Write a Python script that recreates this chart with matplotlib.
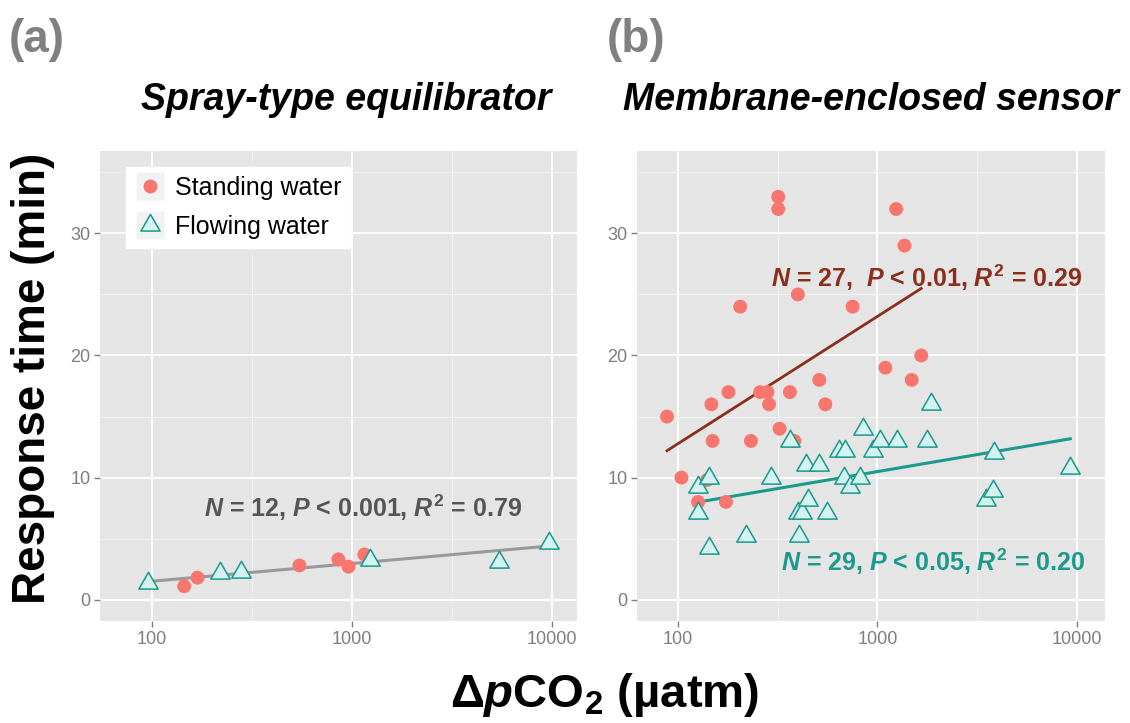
import numpy as np
import matplotlib.pyplot as plt
from matplotlib.lines import Line2D
from matplotlib.path import Path
from matplotlib.legend_handler import HandlerTuple
from matplotlib.ticker import FixedLocator, NullFormatter

plt.rcParams['font.family'] = ['Liberation Sans', 'DejaVu Sans']
plt.rcParams['mathtext.fontset'] = 'custom'
plt.rcParams['mathtext.rm'] = 'Liberation Sans:bold'
plt.rcParams['mathtext.it'] = 'Liberation Sans:italic:bold'
plt.rcParams['mathtext.bf'] = 'Liberation Sans:bold'

# (a) spray-type equilibrator
spray_stand_x = [145, 169, 547, 857, 963, 1156]
spray_stand_y = [1.1, 1.8, 2.8, 3.3, 2.7, 3.7]
spray_flow_x = [96, 220, 280, 1235, 5470, 9700]
spray_flow_y = [1.4, 2.15, 2.25, 3.25, 3.05, 4.65]

# (b) membrane-enclosed sensor
memb_stand_x = [88, 104, 126, 140, 147, 149, 174, 179, 205, 232, 258, 281, 286, 318,
                318, 323, 364, 383, 399, 511, 548, 751, 1097, 1242, 1367, 1486, 1660]
memb_stand_y = [15, 10, 8, 9.8, 16, 13, 8, 17, 24, 13, 17, 17, 16, 33,
                32, 14, 17, 13, 25, 18, 16, 24, 19, 32, 29, 18, 20]
memb_flow_x = [126, 126, 143, 143, 219, 294, 364, 400, 418, 405, 438, 450, 511, 557, 644,
               682, 691, 731, 822, 851, 946, 1025, 1250, 1778, 1862, 3520, 3800, 3835, 9290]
memb_flow_y = [9.2, 7.1, 10, 4.2, 5.2, 10, 13, 7.1, 7.1, 5.2, 11, 8.2, 11, 7.1, 12.2,
               10, 12.2, 9.2, 10, 14, 12.2, 13, 13, 13, 16, 8.2, 8.9, 12, 10.8]

panel_titles = ['Spray-type equilibrator', 'Membrane-enclosed sensor']
panel_tags = ['(a)', '(b)']
legend_labels = ['Standing water', 'Flowing water']

RED = '#F8766D'
TEAL = '#1A998D'
TRI_FILL = '#D4F2EF'
BROWN = '#8B2E1C'
tri = Path([(0, 0.577), (-0.5, -0.289), (0.5, -0.289), (0, 0.577)],
           [Path.MOVETO, Path.LINETO, Path.LINETO, Path.CLOSEPOLY])


def fit_line(ax, x, y, color, lw):
    lx = np.log10(x)
    k, b = np.polyfit(lx, y, 1)
    xs = np.array([lx.min(), lx.max()])
    ax.plot(10 ** xs, k * xs + b, color=color, lw=lw, zorder=2)


def style(ax):
    ax.set_facecolor('#E5E5E5')
    for s in ax.spines.values():
        s.set_visible(False)
    ax.set_xscale('log')
    ax.set_ylim(-1.75, 36.75)
    ax.set_xticks([100, 1000, 10000])
    ax.set_xticklabels(['100', '1000', '10000'])
    ax.xaxis.set_minor_locator(FixedLocator([10 ** 1.5, 10 ** 2.5, 10 ** 3.5]))
    ax.xaxis.set_minor_formatter(NullFormatter())
    ax.set_yticks([0, 10, 20, 30])
    ax.yaxis.set_minor_locator(FixedLocator([5, 15, 25, 35]))
    ax.tick_params(which='major', length=4, width=1, color='#7F7F7F',
                   labelcolor='#7F7F7F', labelsize=13, pad=3)
    ax.tick_params(which='minor', length=0)
    ax.grid(which='major', color='white', lw=1.3)
    ax.grid(which='minor', color='#F2F2F2', lw=0.8)
    ax.set_axisbelow(True)


fig = plt.figure(figsize=(11.3, 7.23), dpi=100)
W, H = 1130, 723
ax1 = fig.add_axes([100 / W, 1 - 621 / H, 477 / W, 470 / H])
ax2 = fig.add_axes([637 / W, 1 - 621 / H, 468 / W, 470 / H])

for ax in (ax1, ax2):
    style(ax)
ax1.set_xlim(10 ** 1.74, 10 ** 4.127)
ax2.set_xlim(10 ** 1.794, 10 ** 4.142)

# panel a
fit_line(ax1, np.array(spray_stand_x + spray_flow_x),
         np.array(spray_stand_y + spray_flow_y), '#999999', 2.2)
ax1.scatter(spray_stand_x, spray_stand_y, s=100, color=RED, edgecolors='none', zorder=3)
ax1.scatter(spray_flow_x, spray_flow_y, s=260, marker=tri, facecolor=TRI_FILL,
            edgecolors=TEAL, linewidths=1.1, zorder=4)
ax1.text(0.551, 0.24, r'$N$ = 12, $P$ < 0.001, $R^2$ = 0.79', transform=ax1.transAxes,
         ha='center', va='center', fontsize=18, fontweight='bold', color='#555555')

# panel b
fit_line(ax2, np.array(memb_stand_x), np.array(memb_stand_y), BROWN, 2)
fit_line(ax2, np.array(memb_flow_x), np.array(memb_flow_y), TEAL, 2.2)
ax2.scatter(memb_stand_x, memb_stand_y, s=100, color=RED, edgecolors='none', zorder=3)
ax2.scatter(memb_flow_x, memb_flow_y, s=260, marker=tri, facecolor=TRI_FILL,
            edgecolors=TEAL, linewidths=1.1, zorder=4)
ax2.text(0.618, 0.73, r'$N$ = 27,  $P$ < 0.01, $R^2$ = 0.29', transform=ax2.transAxes,
         ha='center', va='center', fontsize=18, fontweight='bold', color=BROWN)
ax2.text(0.632, 0.1255, r'$N$ = 29, $P$ < 0.05, $R^2$ = 0.20', transform=ax2.transAxes,
         ha='center', va='center', fontsize=18, fontweight='bold', color=TEAL)

# legend, with the grey key squares behind the markers
key_bg = Line2D([], [], ls='none', marker='s', markersize=20, color='#F2F2F2',
                markeredgecolor='none')
handles = [(key_bg, Line2D([], [], ls='none', marker='o', markersize=10, color=RED,
                           markeredgecolor='none')),
           (key_bg, Line2D([], [], ls='none', marker=tri, markersize=16,
                           markerfacecolor=TRI_FILL, markeredgecolor=TEAL,
                           markeredgewidth=1.1))]
leg = ax1.legend(handles, legend_labels, loc='upper left', bbox_to_anchor=(0.055, 0.965),
                 fontsize=18, frameon=True, fancybox=False, framealpha=1, edgecolor='white',
                 handletextpad=0.4, borderpad=0.35, labelspacing=0.6, handlelength=1.2,
                 borderaxespad=0, handler_map={tuple: HandlerTuple(ndivide=1, pad=0)})

# titles and labels
for ax, t, cx in zip((ax1, ax2), panel_titles, (346, 871)):
    fig.text(cx / W, 1 - 100 / H, t, ha='center', va='center', fontsize=27,
             fontweight='bold', style='italic')
for tag, cx in zip(panel_tags, (37, 636)):
    fig.text(cx / W, 1 - 40 / H, tag, ha='center', va='center', fontsize=33,
             fontweight='bold', color='#808080')
fig.text(33 / W, 1 - 378 / H, 'Response time (min)', rotation=90, ha='center',
         va='center', fontsize=33, fontweight='bold')
fig.text(605 / W, 1 - 695 / H, 'Δ' + r'$p\mathrm{CO}_2$' + ' (µatm)', ha='center',
         va='center', fontsize=34, fontweight='bold')

fig.savefig('out.png', dpi=100)
